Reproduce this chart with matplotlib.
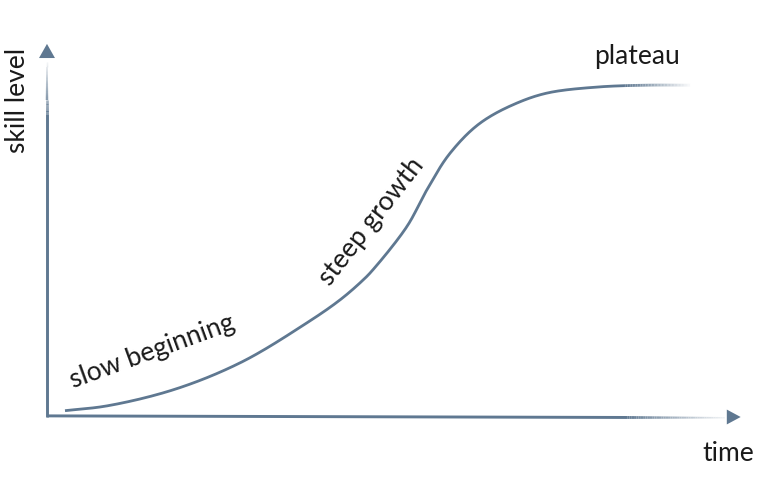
import numpy as np
import matplotlib
matplotlib.use('Agg')
import matplotlib.pyplot as plt
from matplotlib.collections import LineCollection
from matplotlib.patches import Polygon
from matplotlib.colors import to_rgb

# learning curve (time 0..10, skill 0..10)
time = [0.26, 0.87, 1.82, 2.78, 3.75, 4.23, 4.56, 4.70, 5.19, 5.48, 5.82,
        6.25, 6.72, 7.22, 7.94, 8.66, 9.28]
skill = [0.17, 0.30, 0.73, 1.45, 2.53, 3.15, 3.68, 3.95, 5.11, 6.10, 7.10,
         7.90, 8.39, 8.71, 8.87, 8.92, 8.92]

labels = ['skill level', 'time', 'plateau', 'slow beginning', 'steep growth']

color = '#5f7891'
plt.rcParams['font.family'] = ['Lato', 'DejaVu Sans']


def blend(c, a):
    r = np.array(to_rgb(c))
    return tuple(1 - a * (1 - r))


def catmull_rom(xs, ys, n=30, alpha=0.5):
    # centripetal Catmull-Rom through the read points
    pts = np.column_stack([xs, ys])
    P = np.vstack([2 * pts[0] - pts[1], pts, 2 * pts[-1] - pts[-2]])
    out = []
    for i in range(1, len(P) - 2):
        p0, p1, p2, p3 = P[i - 1], P[i], P[i + 1], P[i + 2]
        t0 = 0
        t1 = t0 + np.linalg.norm(p1 - p0) ** alpha
        t2 = t1 + np.linalg.norm(p2 - p1) ** alpha
        t3 = t2 + np.linalg.norm(p3 - p2) ** alpha
        for t in np.linspace(t1, t2, n, endpoint=False):
            a1 = (t1 - t) / (t1 - t0) * p0 + (t - t0) / (t1 - t0) * p1
            a2 = (t2 - t) / (t2 - t1) * p1 + (t - t1) / (t2 - t1) * p2
            a3 = (t3 - t) / (t3 - t2) * p2 + (t - t2) / (t3 - t2) * p3
            b1 = (t2 - t) / (t2 - t0) * a1 + (t - t0) / (t2 - t0) * a2
            b2 = (t3 - t) / (t3 - t1) * a2 + (t - t1) / (t3 - t1) * a3
            out.append((t2 - t) / (t2 - t1) * b1 + (t - t1) / (t2 - t1) * b2)
    out.append(pts[-1])
    return np.array(out)


def fading_line(xy, fade_from, width, end_alpha=0.05, end_width=None):
    # solid part as one line, faded tail as short segments
    if end_width is None:
        end_width = width
    ax.plot(xy[:fade_from + 1, 0], xy[:fade_from + 1, 1], color=color, lw=width,
            solid_capstyle='butt')
    tail = xy[fade_from:]
    segs = np.stack([tail[:-1], tail[1:]], axis=1)
    u = np.linspace(0, 1, len(segs))
    cols = [blend(color, 1 - (1 - end_alpha) * v) for v in u]
    ws = width - (width - end_width) * u
    ax.add_collection(LineCollection(segs, colors=cols, linewidths=ws, capstyle='butt'))


fig = plt.figure(figsize=(7.67, 4.86), dpi=100)
ax = fig.add_axes([0, 0, 1, 1])
ax.set_xlim(-0.678, 10.39)
ax.set_ylim(-1.855, 11.21)
ax.axis('off')

curve = catmull_rom(time, skill)
fading_line(curve, len(curve) - 45, 2.0)

s = np.linspace(0, 1, 300)
x_axis = np.column_stack([9.78 * s, 0.03 - 0.05 * s])
y_axis = np.column_stack([0 * s, 9.55 * s])
fading_line(x_axis, 255, 2.1, end_alpha=0.1, end_width=1.0)
fading_line(y_axis, 255, 2.1, end_alpha=0.1, end_width=1.0)
ax.add_patch(Polygon([[9.81, 0.2], [9.81, -0.2], [10.01, 0.0]], closed=True, color=color, lw=0))
ax.add_patch(Polygon([[-0.115, 9.65], [0.115, 9.65], [0.0, 10.03]], closed=True, color=color, lw=0))

tkw = dict(color='#1a1a1a', fontsize=19)
ax.text(-0.42, 8.52, labels[0], rotation=90, ha='center', va='center', **tkw)
ax.text(9.83, -0.97, labels[1], ha='center', va='center', **tkw)
ax.text(8.51, 9.68, labels[2], ha='center', va='center', **tkw)
ax.text(1.52, 1.75, labels[3], rotation=20, ha='center', va='center', rotation_mode='anchor', **tkw)
ax.text(4.68, 5.24, labels[4], rotation=52, ha='center', va='center', rotation_mode='anchor', **tkw)

fig.savefig('out.png', dpi=100)
